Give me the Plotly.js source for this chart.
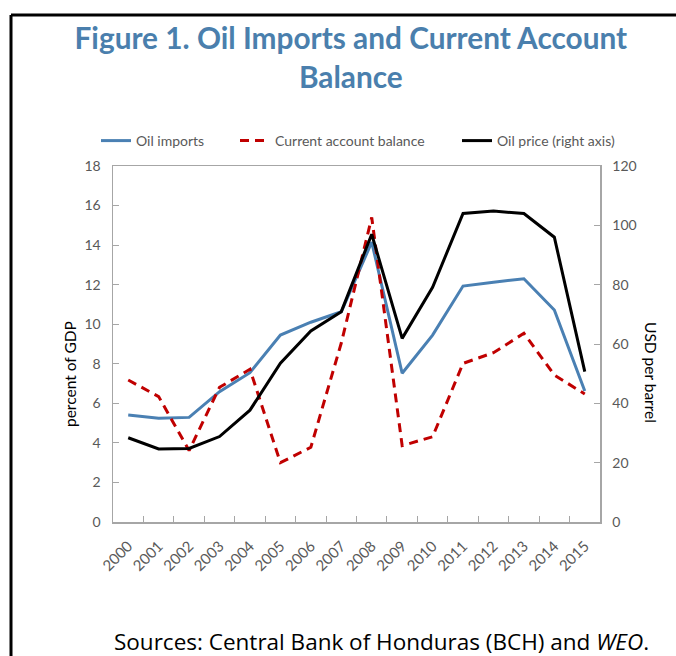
<!DOCTYPE html>
<html>
<head>
<meta charset="utf-8">
<script src="https://cdn.plot.ly/plotly-3.0.1.min.js"></script>
<style>
  html, body { margin: 0; padding: 0; background: #ffffff; }
  #chart { width: 676px; height: 656px; }
</style>
</head>
<body>
<div id="chart"></div>
<script>
const years = ["2000","2001","2002","2003","2004","2005","2006","2007","2008","2009","2010","2011","2012","2013","2014","2015"];
const oilImports = [5.41, 5.24, 5.29, 6.59, 7.55, 9.45, 10.1, 10.63, 14.15, 7.52, 9.45, 11.93, 12.12, 12.3, 10.72, 6.62];
const currentAccount = [7.18, 6.34, 3.61, 6.81, 7.72, 3.0, 3.78, 9.05, 15.4, 3.86, 4.31, 8.02, 8.56, 9.54, 7.43, 6.47];
const oilPrice = [28.4, 24.6, 24.8, 28.8, 37.7, 53.5, 64.4, 70.9, 97.0, 61.9, 79.1, 104.0, 104.8, 104.0, 96.0, 50.7];
const leftTicks = [0, 2, 4, 6, 8, 10, 12, 14, 16, 18];
const rightTicks = [0, 20, 40, 60, 80, 100, 120];
const seriesNames = ["Oil imports", "Current account balance", "Oil price (right axis)"];

const FONT = "Lato, 'Open Sans', sans-serif";
const GRAY = "#595959";
const AXIS = "#a6a6a6";
const BLUE = "#4a80b3";

// pixel -> paper helpers (plot area: x 113..600, y 166..522)
const px = v => (v - 113) / 487;
const py = v => (522 - v) / 356;

const traces = [
  { x: years, y: oilImports, name: seriesNames[0], type: "scatter", mode: "lines", legend: "legend",
    line: { color: BLUE, width: 3 } },
  { x: years, y: currentAccount, name: seriesNames[1], type: "scatter", mode: "lines", legend: "legend2",
    line: { color: "#c00000", width: 3, dash: "9px,6px" } },
  { x: years, y: oilPrice, name: seriesNames[2], type: "scatter", mode: "lines", yaxis: "y2", legend: "legend3",
    line: { color: "#000000", width: 3 } }
];

function legendAt(xpix) {
  return {
    orientation: "h", x: px(xpix), xanchor: "left", y: py(141), yanchor: "middle",
    font: { family: FONT, size: 14, color: GRAY },
    itemwidth: 30, bgcolor: "rgba(0,0,0,0)", borderwidth: 0
  };
}

const layout = {
  width: 676, height: 656,
  paper_bgcolor: "#ffffff", plot_bgcolor: "#ffffff",
  margin: { l: 113, r: 76, t: 166, b: 134, pad: 0 },
  font: { family: FONT, color: GRAY, size: 13 },
  title: {
    text: "Figure 1. Oil Imports and Current Account<br>Balance",
    font: { family: FONT, size: 29.8, color: "#4a7fad", weight: "bold" },
    x: 0.519, xanchor: "center", xref: "container",
    y: 0.925, yanchor: "top", yref: "container"
  },
  showlegend: true,
  legend: legendAt(96),
  legend2: legendAt(235),
  legend3: legendAt(457),
  xaxis: {
    type: "category", range: [-0.5, 15.5], tickson: "boundaries",
    ticks: "inside", ticklen: 6, tickcolor: AXIS, tickwidth: 1,
    showline: true, linecolor: AXIS, linewidth: 1.5, mirror: true,
    showgrid: false, zeroline: false, tickangle: -45, ticklabelstandoff: 8,
    tickfont: { family: FONT, size: 15, color: GRAY }, fixedrange: true
  },
  yaxis: {
    range: [0, 18], tickvals: leftTicks, ticktext: leftTicks.map(String),
    ticks: "inside", ticklen: 6, tickcolor: AXIS, tickwidth: 1,
    showline: true, linecolor: AXIS, linewidth: 1.5, mirror: true,
    showgrid: false, zeroline: false, ticklabelstandoff: 8,
    tickfont: { family: FONT, size: 14, color: GRAY }
  },
  yaxis2: {
    range: [0, 120], overlaying: "y", side: "right",
    tickvals: rightTicks, ticktext: rightTicks.map(String),
    ticks: "inside", ticklen: 6, tickcolor: AXIS, tickwidth: 1,
    showline: true, linecolor: AXIS, linewidth: 1.5,
    showgrid: false, zeroline: false, ticklabelstandoff: 8,
    tickfont: { family: FONT, size: 14, color: GRAY }
  },
  annotations: [
    { text: "percent of GDP", xref: "paper", yref: "paper",
      x: px(70), y: py(374), xanchor: "center", yanchor: "middle",
      textangle: -90, showarrow: false, font: { family: FONT, size: 15.5, color: "#000000" } },
    { text: "USD per barrel", xref: "paper", yref: "paper",
      x: px(651), y: py(372), xanchor: "center", yanchor: "middle",
      textangle: 90, showarrow: false, font: { family: FONT, size: 15.5, color: "#000000" } },
    { text: "Sources: Central Bank of Honduras (BCH) and <i>WEO</i>.", xref: "paper", yref: "paper",
      x: px(112), y: py(641), xanchor: "left", yanchor: "middle",
      showarrow: false, font: { family: "'Open Sans', sans-serif", size: 22.5, color: "#000000" } }
  ],
  shapes: [
    { type: "line", xref: "paper", yref: "paper",
      x0: px(11), x1: px(11), y0: py(15), y1: py(660),
      line: { color: "#000000", width: 3 } },
    { type: "line", xref: "paper", yref: "paper",
      x0: px(11), x1: px(680), y0: py(15), y1: py(15),
      line: { color: "#000000", width: 3 } }
  ]
};

Plotly.newPlot("chart", traces, layout, { displayModeBar: false, staticPlot: true });
</script>
</body>
</html>
